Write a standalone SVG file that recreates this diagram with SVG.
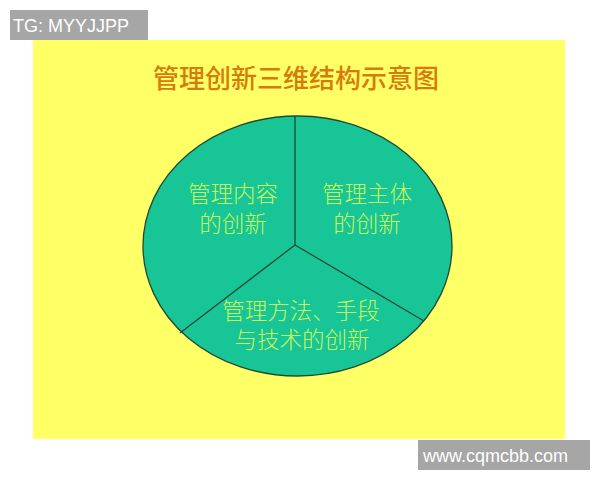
<svg xmlns="http://www.w3.org/2000/svg" width="600" height="480" viewBox="0 0 600 480">
<style>
.wm{fill:#a6a6a6}
.wmt{fill:#ffffff;font-family:"Liberation Sans",Arial,sans-serif;font-size:18px}
.title{fill:#d67c0c;font-family:"Noto Sans CJK SC",sans-serif;font-size:26px;font-weight:500;text-anchor:middle}
.lbl{fill:#c8f55a;font-family:"Noto Sans CJK SC",sans-serif;font-size:22.5px;font-weight:300;text-anchor:middle}
.div{stroke:#1e4a34;stroke-width:1.3;fill:none}
</style>
<rect x="0" y="0" width="600" height="480" fill="#ffffff"/>
<rect x="33" y="40" width="532" height="399" fill="#ffff66"/>
<g id="watermark-top"><rect class="wm" x="10" y="10" width="138" height="30"/><text class="wmt" x="13" y="32">TG: MYYJJPP</text></g>
<g id="watermark-bottom"><rect class="wm" x="418" y="440" width="172" height="30"/><text class="wmt" x="423" y="462" font-size="18.5">www.cqmcbb.com</text></g>
<g id="title"><text class="title" x="296" y="88">管理创新三维结构示意图</text></g>
<g id="pie"><ellipse cx="297.5" cy="246" rx="154.5" ry="130" fill="#17c596" stroke="#1e4a34" stroke-width="1.3"/></g>
<g id="connectors">
<line class="div" x1="295" y1="116" x2="295" y2="245"/>
<line class="div" x1="295" y1="245" x2="180" y2="333"/>
<line class="div" x1="295" y1="245" x2="424" y2="321"/>
</g>
<g id="node-content"><text class="lbl" x="233" y="202">管理内容</text><text class="lbl" x="233" y="232">的创新</text></g>
<g id="node-subject"><text class="lbl" x="367" y="202">管理主体</text><text class="lbl" x="367" y="232">的创新</text></g>
<g id="node-method"><text class="lbl" x="301" y="319">管理方法、手段</text><text class="lbl" x="302" y="348">与技术的创新</text></g>
</svg>
